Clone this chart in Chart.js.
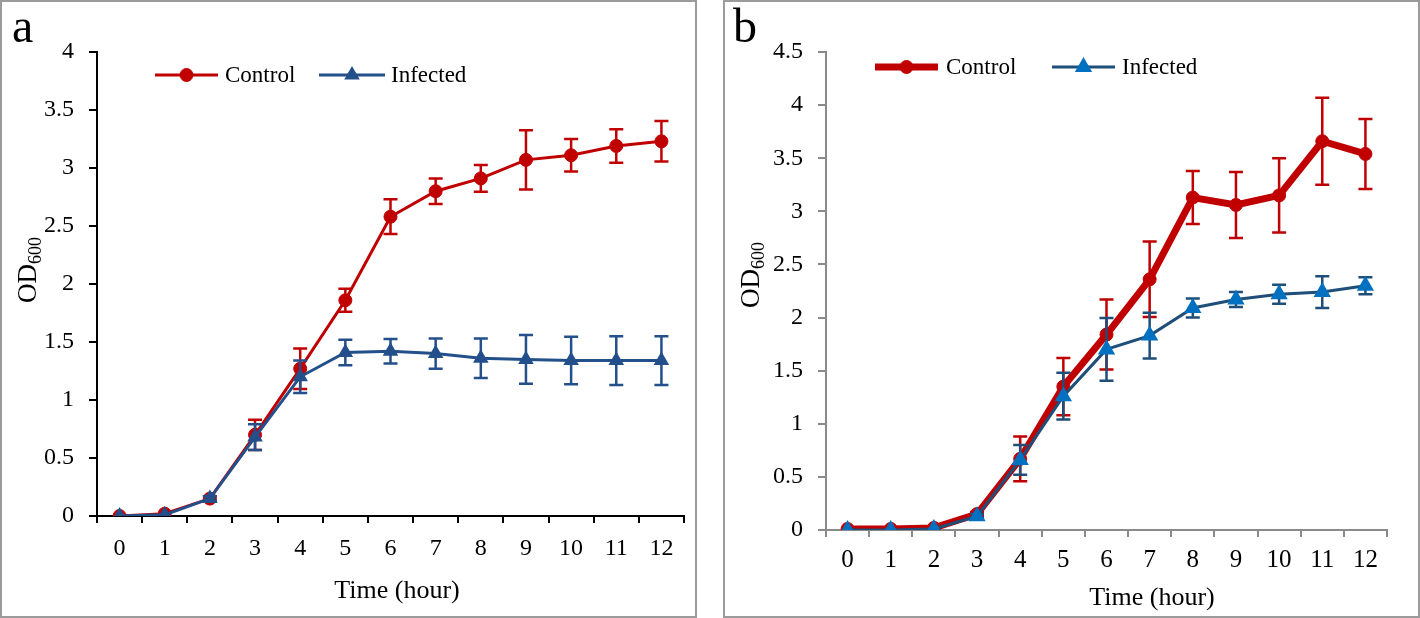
<!DOCTYPE html>
<html><head><meta charset="utf-8">
<script src="https://cdn.jsdelivr.net/npm/chart.js@4/dist/chart.umd.min.js"></script>
<style>
html,body{margin:0;padding:0;background:#fff;width:1420px;height:618px;overflow:hidden}
.panel{position:absolute;top:0;height:618px;width:697px}
.panel canvas{position:absolute;left:0;top:0}
.frame{position:absolute;top:0;height:618px;box-sizing:border-box;border:2px solid #9b9b9b;pointer-events:none}
</style></head>
<body>
<div class="panel" style="left:0"><canvas id="ca" width="697" height="618"></canvas></div>
<div class="panel" style="left:723px"><canvas id="cb" width="697" height="618"></canvas></div>
<div class="frame" style="left:0;width:697px"></div>
<div class="frame" style="left:723px;width:697px"></div>
<script>
// ---- data ----
const hours = ['0','1','2','3','4','5','6','7','8','9','10','11','12'];
const seriesNames = ['Control', 'Infected'];
// panel a
const controlA    = [0, 0.02, 0.15, 0.70, 1.27, 1.86, 2.58, 2.80, 2.91, 3.07, 3.11, 3.19, 3.23];
const controlAErr = [0, 0, 0.02, 0.13, 0.175, 0.10, 0.15, 0.11, 0.115, 0.255, 0.14, 0.145, 0.175];
const infectedA    = [0, 0.01, 0.15, 0.68, 1.20, 1.41, 1.42, 1.40, 1.36, 1.35, 1.34, 1.34, 1.34];
const infectedAErr = [0, 0, 0.02, 0.11, 0.14, 0.11, 0.105, 0.13, 0.17, 0.21, 0.205, 0.21, 0.21];
const yMaxA = 4;
// panel b
const controlB    = [0.01, 0.01, 0.02, 0.15, 0.67, 1.35, 1.84, 2.36, 3.13, 3.06, 3.15, 3.66, 3.54];
const controlBErr = [0, 0, 0, 0.02, 0.21, 0.27, 0.33, 0.355, 0.25, 0.31, 0.35, 0.41, 0.33];
const infectedB    = [0, 0, 0.01, 0.13, 0.66, 1.26, 1.70, 1.83, 2.09, 2.17, 2.22, 2.24, 2.30];
const infectedBErr = [0, 0, 0, 0.02, 0.14, 0.22, 0.295, 0.215, 0.09, 0.07, 0.09, 0.15, 0.08];
const yMaxB = 4.5;
const yStep = 0.5;

const FONT = '"Liberation Serif", "Times New Roman", serif';
const RED = '#C00000';

function drawMarker(ctx, style, x, y, r) {
  ctx.beginPath();
  if (style === 'triangle') {
    let a = 0;
    ctx.moveTo(x + Math.sin(a) * r, y - Math.cos(a) * r);
    a += 2 * Math.PI / 3;
    ctx.lineTo(x + Math.sin(a) * r, y - Math.cos(a) * r);
    a += 2 * Math.PI / 3;
    ctx.lineTo(x + Math.sin(a) * r, y - Math.cos(a) * r);
    ctx.closePath();
  } else {
    ctx.arc(x, y, r, 0, Math.PI * 2);
  }
  ctx.fill();
  ctx.stroke();
}

const errorBars = {
  id: 'errorBars',
  beforeDatasetDraw(chart, args) {
    const ds = chart.data.datasets[args.index];
    const err = ds.errors;
    if (!err) return;
    const ys = chart.scales.y, ctx = chart.ctx, cap = 7;
    ctx.save();
    ctx.strokeStyle = ds.errorColor;
    ctx.lineWidth = 2.5;
    args.meta.data.forEach((pt, i) => {
      const v = ds.data[i], e = err[i];
      if (!e) return;
      const top = ys.getPixelForValue(v + e), bot = ys.getPixelForValue(v - e);
      const x = pt.x;
      ctx.beginPath();
      ctx.moveTo(x, top); ctx.lineTo(x, bot);
      ctx.moveTo(x - cap, top); ctx.lineTo(x + cap, top);
      ctx.moveTo(x - cap, bot); ctx.lineTo(x + cap, bot);
      ctx.stroke();
    });
    ctx.restore();
  }
};

const decorations = {
  id: 'decorations',
  afterDraw(chart, args, o) {
    const ctx = chart.ctx;
    ctx.save();
    // legend
    chart.data.datasets.forEach((ds, i) => {
      const L = o.legend[i];
      ctx.strokeStyle = ds.borderColor;
      ctx.lineWidth = ds.borderWidth;
      ctx.beginPath(); ctx.moveTo(L.x1, L.y); ctx.lineTo(L.x2, L.y); ctx.stroke();
      ctx.fillStyle = ds.pointBackgroundColor;
      ctx.strokeStyle = ds.pointBorderColor;
      ctx.lineWidth = ds.pointBorderWidth;
      drawMarker(ctx, ds.pointStyle, (L.x1 + L.x2) / 2, L.y, ds.pointRadius);
      ctx.fillStyle = '#000';
      ctx.font = '23px ' + FONT;
      ctx.textAlign = 'left'; ctx.textBaseline = 'middle';
      ctx.fillText(ds.label, L.tx, L.y + 1);
    });
    // panel letter
    ctx.fillStyle = '#000';
    ctx.font = '48px ' + FONT;
    ctx.textAlign = 'left'; ctx.textBaseline = 'alphabetic';
    ctx.fillText(o.letter, o.letterX, 42);
    // x title
    ctx.font = '26px ' + FONT;
    ctx.textAlign = 'center'; ctx.textBaseline = 'middle';
    ctx.fillText('Time (hour)', o.xTitleX, o.xTitleY);
    // y title OD600 (rotated)
    ctx.translate(o.yTitleX, o.yTitleY);
    ctx.rotate(-Math.PI / 2);
    ctx.font = '27px ' + FONT;
    const w1 = ctx.measureText('OD').width;
    ctx.font = '18px ' + FONT;
    const w2 = ctx.measureText('600').width;
    const s = -(w1 + w2) / 2;
    ctx.textAlign = 'left'; ctx.textBaseline = 'alphabetic';
    ctx.font = '27px ' + FONT;
    ctx.fillText('OD', s, 0);
    ctx.font = '18px ' + FONT;
    ctx.fillText('600', s + w1, 5);
    ctx.restore();
  }
};

function makeChart(id, c) {
  return new Chart(document.getElementById(id), {
    type: 'line',
    data: {
      labels: hours,
      datasets: [
        { label: seriesNames[0], data: c.control, errors: c.controlErr, errorColor: RED,
          borderColor: RED, backgroundColor: RED, borderWidth: c.redWidth,
          pointStyle: 'circle', pointRadius: 6.5, pointBackgroundColor: RED, pointBorderColor: RED,
          pointBorderWidth: 1, tension: 0, order: 2 },
        { label: seriesNames[1], data: c.infected, errors: c.infectedErr, errorColor: c.blueLine,
          borderColor: c.blueLine, backgroundColor: c.blueMark, borderWidth: 3,
          pointStyle: 'triangle', pointRadius: c.triR, pointBackgroundColor: c.blueMark, pointBorderColor: c.blueMark,
          pointBorderWidth: 2, tension: 0, order: 1 }
      ]
    },
    options: {
      responsive: false, animation: false, devicePixelRatio: 1,
      layout: { padding: { left: 0, right: c.padRight, top: 52, bottom: 0 } },
      plugins: {
        legend: { display: false }, tooltip: { enabled: false },
        decorations: c.deco
      },
      scales: {
        x: {
          type: 'category', offset: true,
          grid: { offset: true, drawOnChartArea: false, drawTicks: true, tickLength: 7,
                  color: c.axis, lineWidth: 2 },
          border: { color: c.axis, width: 2 },
          ticks: { font: { family: FONT, size: c.xFont }, color: '#000', padding: c.xPad,
                   maxRotation: 0, autoSkip: false },
          afterFit(s) { s.height = c.xAxisH; }
        },
        y: {
          min: 0, max: c.yMax,
          grid: { drawOnChartArea: false, drawTicks: true, tickLength: 8, color: c.axis, lineWidth: 2 },
          border: { color: c.axis, width: 2 },
          ticks: { stepSize: yStep, font: { family: FONT, size: 24 }, color: '#000', padding: 15,
                   callback: v => String(Math.round(v * 10) / 10) },
          afterFit(s) { s.width = c.yAxisW; }
        }
      }
    },
    plugins: [errorBars, decorations]
  });
}

makeChart('ca', {
  control: controlA, controlErr: controlAErr, infected: infectedA, infectedErr: infectedAErr,
  yMax: yMaxA, redWidth: 3, blueLine: '#234F8B', blueMark: '#234F8B', triR: 7,
  axis: '#000', padRight: 13, xAxisH: 102, yAxisW: 97, xFont: 24, xPad: 11,
  deco: {
    legend: [ { x1: 155, x2: 218, y: 75, tx: 225 }, { x1: 319, x2: 385, y: 75, tx: 391 } ],
    letter: 'a', letterX: 12, xTitleX: 397, xTitleY: 591, yTitleX: 36, yTitleY: 270
  }
});

makeChart('cb', {
  control: controlB, controlErr: controlBErr, infected: infectedB, infectedErr: infectedBErr,
  yMax: yMaxB, redWidth: 7, blueLine: '#1F4E79', blueMark: '#0070C0', triR: 8,
  axis: '#8a8a8a', padRight: 33, xAxisH: 88, yAxisW: 103, xFont: 25, xPad: 8,
  deco: {
    legend: [ { x1: 152, x2: 215, y: 67, tx: 223 }, { x1: 329, x2: 392, y: 67, tx: 399 } ],
    letter: 'b', letterX: 10, xTitleX: 429, xTitleY: 598, yTitleX: 36, yTitleY: 275
  }
});
</script>
</body></html>
